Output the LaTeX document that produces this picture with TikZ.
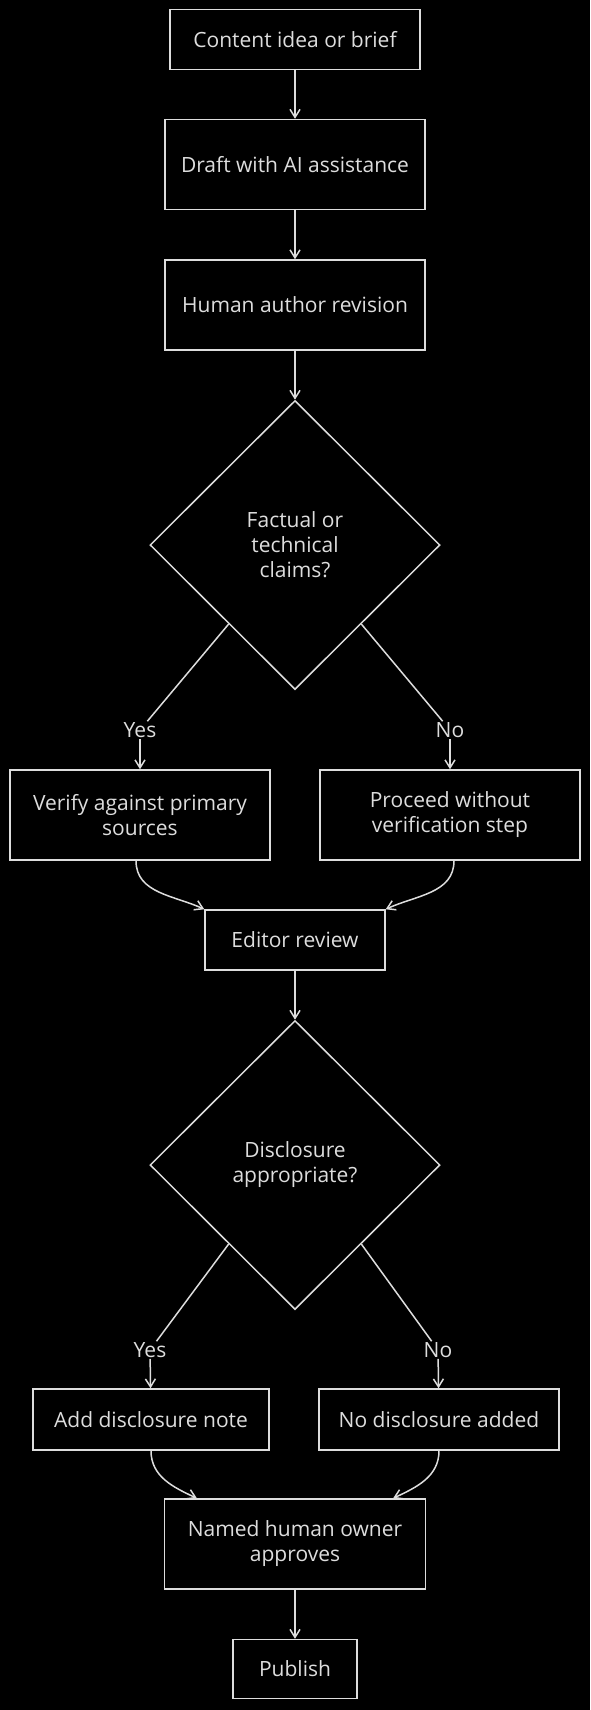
\documentclass[tikz,border=0pt]{standalone}
\usepackage{fontspec}
\setmainfont{Open Sans}
\usetikzlibrary{shapes,arrows.meta,calc,positioning}

\definecolor{fg}{HTML}{DDDDDD}
\newcommand{\boxfont}{\fontsize{21}{25}\selectfont}

\begin{document}
\begin{tikzpicture}[
  box/.style={rectangle, draw=fg, line width=1.5pt, fill=black, text=fg, font=\boxfont, align=center, inner sep=0pt},
  dec/.style={diamond, draw=fg, line width=1.5pt, fill=black, text=fg, font=\boxfont, align=center, inner sep=0pt, minimum width=290pt, minimum height=289pt},
  lbl/.style={fill=black, text=fg, font=\boxfont, inner sep=1pt},
  line/.style={draw=fg, line width=1.5pt},
  flow/.style={line, -{Straight Barb[length=8pt,width=10pt]}}]

  \fill[black] (0,0) rectangle (590pt,-1710pt);

  \node[box, minimum width=250pt, minimum height=60pt] (idea) at (295pt,-39.5pt) {Content idea or brief};
  \node[box, minimum width=260pt, minimum height=90pt, node distance=125pt, below of=idea] (draft) {Draft with AI assistance};
  \node[box, minimum width=260pt, minimum height=90pt, node distance=140.5pt, below of=draft] (rev) {Human author revision};
  \node[dec, node distance=240pt, below of=rev] (claims) {Factual or\\technical\\claims?};

  \node[lbl, node distance=185pt, below of=claims, xshift=-155pt] (yes1) {Yes};
  \node[lbl, node distance=185pt, below of=claims, xshift=155pt] (no1) {No};
  \node[box, minimum width=260pt, minimum height=90pt, node distance=270pt, below of=claims, xshift=-155pt] (verify) {Verify against primary\\sources};
  \node[box, minimum width=260pt, minimum height=90pt, node distance=270pt, below of=claims, xshift=155pt] (proceed) {Proceed without\\verification step};
  \node[box, minimum width=180pt, minimum height=60pt, node distance=395pt, below of=claims] (edit) {Editor review};
  \node[dec, node distance=225pt, below of=edit] (discl) {Disclosure\\appropriate?};

  \node[lbl, node distance=185pt, below of=discl, xshift=-145pt] (yes2) {Yes};
  \node[lbl, node distance=185pt, below of=discl, xshift=143pt] (no2) {No};
  \node[box, minimum width=236pt, minimum height=61pt, node distance=254.5pt, below of=discl, xshift=-144pt] (add) {Add disclosure note};
  \node[box, minimum width=240pt, minimum height=61pt, node distance=254.5pt, below of=discl, xshift=144pt] (nodis) {No disclosure added};
  \node[box, minimum width=261pt, minimum height=90pt, node distance=379pt, below of=discl] (owner) {Named human owner\\approves};
  \node[box, minimum width=124pt, minimum height=59pt, node distance=125pt, below of=owner] (pub) {Publish};

  \draw[flow] (idea) -- (draft);
  \draw[flow] (draft) -- (rev);
  \draw[flow] (rev) -- (claims);
  \draw[line] (claims.-130) -- (yes1);
  \draw[flow] (yes1) -- (verify);
  \draw[line] (claims.-50) -- (no1);
  \draw[flow] (no1) -- (proceed);
  \draw[flow] (verify.-95) to[out=-90, in=155] (edit.north west);
  \draw[flow] (proceed.-85) to[out=-90, in=25] (edit.north east);
  \draw[flow] (edit) -- (discl);
  \draw[line] (discl.-130) -- (yes2);
  \draw[flow] (yes2) -- (add);
  \draw[line] (discl.-50) -- (no2);
  \draw[flow] (no2) -- (nodis);
  \draw[flow] (add.south) to[out=-90, in=155] (owner.155);
  \draw[flow] (nodis.south) to[out=-90, in=25] (owner.25);
  \draw[flow] (owner) -- (pub);
\end{tikzpicture}
\end{document}
